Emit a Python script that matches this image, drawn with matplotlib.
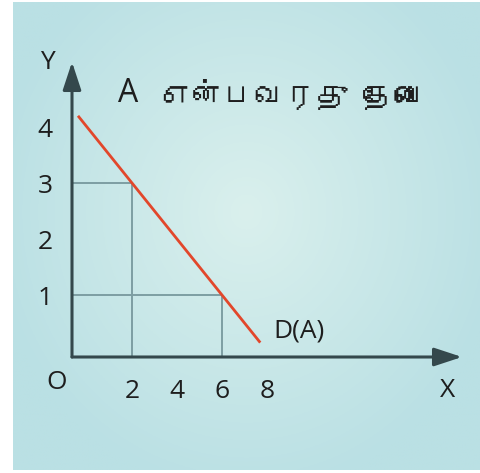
import numpy as np
import matplotlib
matplotlib.use("Agg")
import matplotlib.pyplot as plt
from matplotlib import font_manager

# ---- data ----
title_letter = "A"
title_words = "என்பவரது தேவை"
curve_label = "D(A)"
curve_x = [-0.4, 7.7]          # quantity at line ends
curve_y = [4.2, 0.15]          # price at line ends
guide_x = [2, 6]               # quantities at marked points
guide_y = [3, 1]               # prices at marked points
x_ticks = [2, 4, 6, 8]
x_tick_labels = ["2", "4", "6", "8"]
y_ticks = [1, 2, 3, 4]
y_tick_labels = ["1", "2", "3", "4"]

# ---- find a font with Tamil glyphs, if any ----
tamil_font = None
try:
    from fontTools.ttLib import TTFont
    for f in font_manager.fontManager.ttflist:
        try:
            tt = TTFont(f.fname, fontNumber=0, lazy=True)
            cmap = tt.getBestCmap()
            if cmap and 0x0B8E in cmap and 0x0BA4 in cmap and 0x0BC7 in cmap:
                tamil_font = f.name
                break
        except Exception:
            pass
except Exception:
    pass
base_font = "Open Sans"
tamil_family = [tamil_font, base_font, "DejaVu Sans"] if tamil_font else [base_font, "DejaVu Sans"]

plt.rcParams['font.family'] = [base_font, 'DejaVu Sans']

W, H = 480, 473
fig = plt.figure(figsize=(W / 100, H / 100), dpi=100)
fig.patch.set_facecolor("white")

# ---- background panel with soft radial gradient ----
bg = fig.add_axes([13 / W, 3 / H, (W - 13) / W, (H - 5) / H])
bg.set_axis_off()
yy, xx = np.mgrid[0:1:300j, 0:1:300j]
r = np.sqrt(((xx - 0.5) / 0.55) ** 2 + ((yy - 0.45) / 0.6) ** 2)
t = np.clip(r, 0, 1)
c_in = np.array([0xda, 0xf0, 0xed]) / 255
c_out = np.array([0xba, 0xe0, 0xe4]) / 255
img = c_in[None, None, :] * (1 - t[..., None]) + c_out[None, None, :] * t[..., None]
bg.imshow(img, aspect="auto", extent=[0, 1, 0, 1], origin="upper")

# ---- main axes ----
ax = fig.add_axes([72 / W, (H - 357) / H, 390 / W, 295 / H])
ax.patch.set_alpha(0)
xmin, xmax = -0.667, 16.667
ymin, ymax = -0.107, 5.161
ax.set_xlim(xmin, xmax)
ax.set_ylim(ymin, ymax)
for s in ["top", "right", "left", "bottom"]:
    ax.spines[s].set_visible(False)

txt_col = "#1e1e1e"
fs = 19
ax.set_xticks(x_ticks)
ax.set_xticklabels(x_tick_labels)
ax.set_yticks(y_ticks)
ax.set_yticklabels(y_tick_labels)
ax.tick_params(axis="both", length=0, labelsize=fs, colors=txt_col)
ax.tick_params(axis="x", pad=16)
ax.tick_params(axis="y", pad=14)

axis_col = "#34484c"
arrow_kw = dict(arrowstyle="-|>,head_length=0.85,head_width=0.28",
                color=axis_col, lw=2.2, mutation_scale=20, shrinkA=0, shrinkB=0)
ax.annotate("", xy=(xmin, ymax), xytext=(xmin, ymin), arrowprops=arrow_kw,
            annotation_clip=False)
ax.annotate("", xy=(xmax, ymin), xytext=(xmin, ymin), arrowprops=arrow_kw,
            annotation_clip=False)

# guide lines
grid_col = "#7d9ea3"
for gx, gy in zip(guide_x, guide_y):
    ax.plot([xmin, gx], [gy, gy], color=grid_col, lw=1.4, zorder=2)
    ax.plot([gx, gx], [ymin, gy], color=grid_col, lw=1.4, zorder=2)

# demand line
ax.plot(curve_x, curve_y, color="#e2472b", lw=2.0, zorder=3, clip_on=False,
        solid_capstyle="butt")

# labels
ax.text(8.27, 0.357, curve_label, fontsize=19, color=txt_col, ha="left", va="center")
ax.text(-1.78, 5.16, "Y", fontsize=fs, color=txt_col, ha="center", va="center")
ax.text(16.04, -0.70, "X", fontsize=fs, color=txt_col, ha="center", va="center")
ax.text(-1.33, -0.57, "O", fontsize=fs, color=txt_col, ha="center", va="center")
ax.text(1.38, 4.60, title_letter, fontsize=23, color=txt_col, ha="left", va="center")
ax.text(3.25, 4.60, title_words, fontsize=22.5, color=txt_col, ha="left", va="center",
        family=tamil_family)

fig.savefig("out.png", dpi=100, facecolor="white")
print("tamil font:", tamil_font)
